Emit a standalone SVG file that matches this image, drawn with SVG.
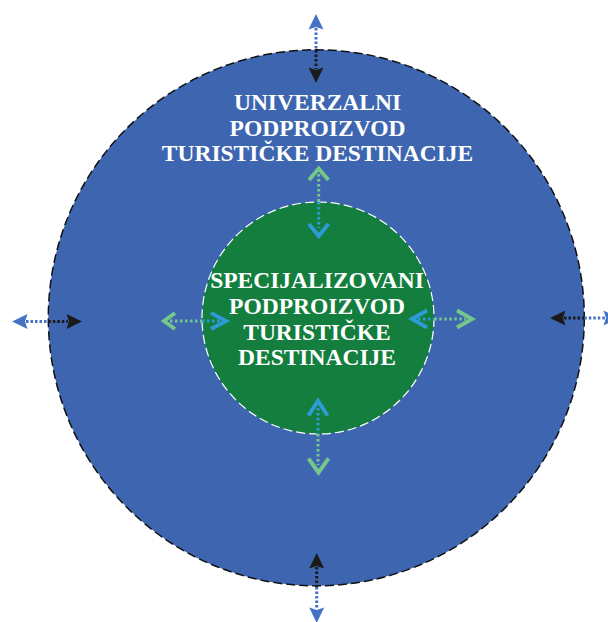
<svg xmlns="http://www.w3.org/2000/svg" width="608" height="622" viewBox="0 0 608 622">
<style>
.lbl{font-family:"Liberation Serif","Times New Roman",serif;font-weight:bold;font-size:23.5px;fill:#ffffff;text-anchor:middle}
.dB{stroke:#4472C4;stroke-width:3;stroke-dasharray:2.5 2;fill:none}
.dK{stroke:#1a1a1a;stroke-width:3;stroke-dasharray:2.5 2;fill:none}
.dG{stroke:#74C68D;stroke-width:3;stroke-dasharray:2.5 2.5;fill:none}
.dT{stroke:#2E9BD6;stroke-width:3;stroke-dasharray:2.5 2.5;fill:none}
.hB{fill:#4472C4}
.hK{fill:#1a1a1a}
.cG{stroke:#74C68D;stroke-width:4;fill:none;stroke-linejoin:miter}
.cT{stroke:#2E9BD6;stroke-width:4;fill:none;stroke-linejoin:miter}
</style>
<rect width="608" height="622" fill="#ffffff"/>
<g id="outer">
<circle cx="316.3" cy="317.8" r="268" fill="#3E66B0" stroke="#111111" stroke-width="1.5" stroke-dasharray="9 4"/>
<text class="lbl" x="317.5" y="110">UNIVERZALNI</text>
<text class="lbl" x="317.5" y="135.5">PODPROIZVOD</text>
<text class="lbl" x="317.5" y="161">TURISTIČKE DESTINACIJE</text>
</g>
<g id="inner">
<circle cx="318" cy="318" r="116" fill="#137E3D" stroke="#ffffff" stroke-width="1.2" stroke-dasharray="9 4"/>
<text class="lbl" x="317" y="288.3">SPECIJALIZOVANI</text>
<text class="lbl" x="317" y="314">PODPROIZVOD</text>
<text class="lbl" x="317" y="339.7">TURISTIČKE</text>
<text class="lbl" x="317" y="365.3">DESTINACIJE</text>
</g>
<g id="connectors">
<!-- top outer -->
<line class="dB" x1="316" y1="28" x2="316" y2="50"/>
<line class="dK" x1="316" y1="50" x2="316" y2="69"/>
<polygon class="hB" points="316,14 323.5,29.5 316,27 308.5,29.5"/>
<polygon class="hK" points="316,83 323.5,67.5 316,70 308.5,67.5"/>
<!-- bottom outer -->
<line class="dK" x1="316.7" y1="567" x2="316.7" y2="587"/>
<line class="dB" x1="316.7" y1="587" x2="316.7" y2="609"/>
<polygon class="hK" points="316.7,553 324.2,568.5 316.7,566 309.2,568.5"/>
<polygon class="hB" points="316.7,623 324.2,607.5 316.7,610 309.2,607.5"/>
<!-- left outer -->
<line class="dB" x1="26" y1="321.5" x2="48.3" y2="321.5"/>
<line class="dK" x1="48.3" y1="321.5" x2="68" y2="321.5"/>
<polygon class="hB" points="12,321.5 27.5,314 25,321.5 27.5,329"/>
<polygon class="hK" points="82,321.5 66.5,314 69,321.5 66.5,329"/>
<!-- right outer -->
<line class="dK" x1="564" y1="318" x2="584.3" y2="318"/>
<line class="dB" x1="584.3" y1="318" x2="605" y2="318"/>
<polygon class="hK" points="550,318 565.5,310.5 563,318 565.5,325.5"/>
<polygon class="hB" points="619,318 603.5,310.5 606,318 603.5,325.5"/>
<!-- top inner -->
<line class="dG" x1="318.7" y1="174" x2="318.7" y2="202"/>
<line class="dT" x1="318.7" y1="202" x2="318.7" y2="228"/>
<polyline class="cG" points="309,180 318.7,168.5 328.4,180"/>
<polyline class="cT" points="309,224 318.7,236 328.4,224"/>
<!-- bottom inner -->
<line class="dT" x1="318" y1="408" x2="318" y2="434"/>
<line class="dG" x1="318" y1="434" x2="318" y2="465"/>
<polyline class="cT" points="308.5,415.5 318,401 327.5,415.5"/>
<polyline class="cG" points="308.5,458.5 318.5,472.5 328.5,458.5"/>
<!-- left inner -->
<line class="dG" x1="170" y1="321" x2="202" y2="321"/>
<line class="dT" x1="202" y1="321" x2="220" y2="321"/>
<polyline class="cG" points="175,313 164,321 175,329"/>
<polyline class="cT" points="211,313 226,321 211,329"/>
<!-- right inner -->
<line class="dT" x1="418" y1="319" x2="434.3" y2="319"/>
<line class="dG" x1="434.3" y1="319" x2="466" y2="319"/>
<polyline class="cT" points="427,310.5 412,319 427,327.5"/>
<polyline class="cG" points="457,310.5 472,319 457,327.5"/>
</g>
</svg>
